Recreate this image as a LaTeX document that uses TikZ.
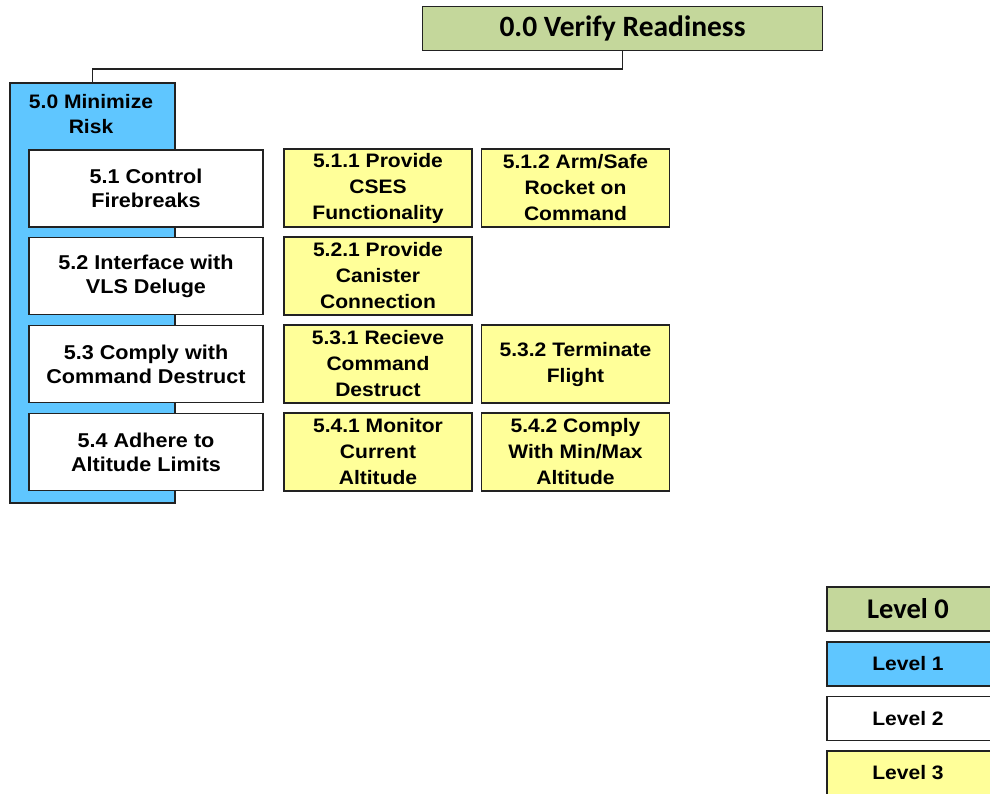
\documentclass[tikz,border=0pt]{standalone}
\usepackage{fontspec}
\setmainfont{Liberation Sans}[FakeStretch=1.08]
\newfontfamily\calib{Carlito}
\definecolor{lvlzero}{HTML}{C4D79B}
\definecolor{lvlone}{HTML}{5FC6FF}
\definecolor{lvltwo}{HTML}{FFFFFF}
\definecolor{lvlthree}{HTML}{FFFF99}
\definecolor{edge}{HTML}{222222}
\begin{document}
\begin{tikzpicture}[x=1pt,y=-1pt,
  base/.style={draw=edge, line width=1.9pt, align=center, inner sep=0pt, text=black},
  zerobox/.style={base, fill=lvlzero, font=\calib\bfseries\fontsize{29.5}{32}\selectfont},
  onebox/.style={base, fill=lvlone, font=\bfseries\fontsize{19}{25}\selectfont},
  twobox/.style={base, fill=lvltwo, minimum width=234pt, minimum height=77pt, font=\bfseries\fontsize{20}{24}\selectfont},
  threebox/.style={base, fill=lvlthree, minimum width=188pt, minimum height=78pt, font=\bfseries\fontsize{19.5}{26}\selectfont},
  legbox/.style={base, minimum width=170pt, minimum height=44pt, font=\bfseries\fontsize{19.5}{24}\selectfont},
  link/.style={draw=edge, line width=1.9pt}]
\useasboundingbox (0,0) rectangle (990,794);
\clip (0,0) rectangle (990,794);

% level 0
\node[zerobox, minimum width=400pt, minimum height=44pt] (top) at (622.5,28.5) {0.0 Verify Readiness};

% level 1
\node[onebox, minimum width=165pt, minimum height=420pt] (b50) at (92.5,293) {};
\node[align=center, inner sep=0pt, font=\bfseries\fontsize{19.5}{25}\selectfont, anchor=north] (t50) at (91,94) {5.0 Minimize\\Risk};

% level 2
\node[twobox] (b51) at (146,188.5) {5.1 Control\\Firebreaks};
\node[twobox] (b52) at (146,276) {5.2 Interface with\\VLS Deluge};
\node[twobox] (b53) at (146,364) {5.3 Comply with\\Command Destruct};
\node[twobox] (b54) at (146,452) {5.4 Adhere to\\Altitude Limits};

% level 3
\node[threebox] (b511) at (378,188) {5.1.1 Provide\\CSES\\Functionality};
\node[threebox] (b512) at (575.5,188) {5.1.2 Arm/Safe\\Rocket on\\Command};
\node[threebox] (b521) at (378,276) {5.2.1 Provide\\Canister\\Connection};
\node[threebox] (b531) at (378,364) {5.3.1 Recieve\\Command\\Destruct};
\node[threebox] (b532) at (575.5,364) {5.3.2 Terminate\\Flight};
\node[threebox] (b541) at (378,452) {5.4.1 Monitor\\Current\\Altitude};
\node[threebox] (b542) at (575.5,452) {5.4.2 Comply\\With Min/Max\\Altitude};

% connector
\draw[link] (top.south) -- ++(0,17.5) -| (b50.north);

% legend
\node[legbox, fill=lvlzero, font=\calib\bfseries\fontsize{28.5}{32}\selectfont] (l0) at (912,609) {\hspace*{-8pt}Level 0};
\node[legbox, fill=lvlone] (l1) at (912,664) {\hspace*{-8pt}Level 1};
\node[legbox, fill=lvltwo] (l2) at (912,718.5) {\hspace*{-8pt}Level 2};
\node[legbox, fill=lvlthree] (l3) at (912,773) {\hspace*{-8pt}Level 3};
\end{tikzpicture}
\end{document}
